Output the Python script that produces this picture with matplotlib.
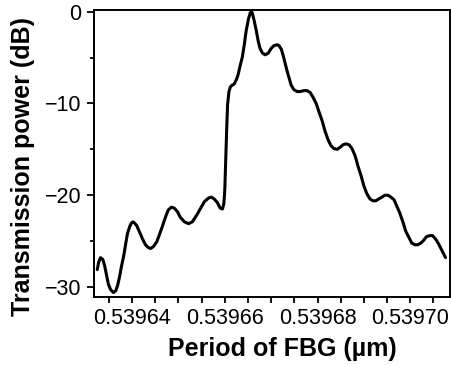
import matplotlib
matplotlib.use("Agg")
import matplotlib.pyplot as plt
from matplotlib.ticker import MultipleLocator, FormatStrFormatter

# --- data (period in um, transmission in dB) ---
period_um = [
    0.5396325, 0.5396328, 0.5396332, 0.5396337, 0.5396341, 0.5396345,
    0.5396349, 0.5396354, 0.5396360, 0.5396365, 0.5396369, 0.5396373,
    0.5396377, 0.5396382, 0.5396386, 0.5396390, 0.5396395, 0.5396399,
    0.5396402, 0.5396405, 0.5396410, 0.5396416, 0.5396423, 0.5396429,
    0.5396435, 0.5396440, 0.5396446, 0.5396453, 0.5396459, 0.5396466,
    0.5396472, 0.5396478, 0.5396485, 0.5396491, 0.5396498, 0.5396504,
    0.5396513, 0.5396522, 0.5396530, 0.5396539, 0.5396547, 0.5396556,
    0.5396565, 0.5396571, 0.5396577, 0.5396584, 0.5396590, 0.5396595,
    0.5396598, 0.5396600, 0.5396602, 0.5396604, 0.5396606, 0.5396609,
    0.5396612, 0.5396616, 0.5396620, 0.5396625, 0.5396629, 0.5396633,
    0.5396638, 0.5396642, 0.5396646, 0.5396651, 0.5396655, 0.5396657,
    0.5396659, 0.5396663, 0.5396668, 0.5396672, 0.5396676, 0.5396681,
    0.5396687, 0.5396694, 0.5396700, 0.5396706, 0.5396713, 0.5396717,
    0.5396722, 0.5396726, 0.5396730, 0.5396734, 0.5396739, 0.5396743,
    0.5396749, 0.5396756, 0.5396762, 0.5396771, 0.5396777, 0.5396784,
    0.5396790, 0.5396797, 0.5396803, 0.5396810, 0.5396816, 0.5396823,
    0.5396829, 0.5396835, 0.5396842, 0.5396848, 0.5396855, 0.5396861,
    0.5396868, 0.5396874, 0.5396881, 0.5396887, 0.5396894, 0.5396900,
    0.5396906, 0.5396913, 0.5396919, 0.5396926, 0.5396932, 0.5396939,
    0.5396945, 0.5396952, 0.5396958, 0.5396965, 0.5396971, 0.5396977,
    0.5396984, 0.5396990, 0.5396997, 0.5397003, 0.5397010, 0.5397016,
    0.5397023, 0.5397029, 0.5397035, 0.5397042, 0.5397048, 0.5397055,
    0.5397061, 0.5397068, 0.5397076,
]
power_db = [
    -28.1, -27.3, -26.8, -27.0, -27.7, -28.7,
    -29.7, -30.3, -30.6, -30.4, -29.8, -28.9,
    -27.8, -26.6, -25.4, -24.2, -23.4, -23.0,
    -22.9, -23.0, -23.3, -24.0, -24.8, -25.4,
    -25.7, -25.8, -25.6, -25.1, -24.3, -23.3,
    -22.4, -21.6, -21.3, -21.4, -21.8, -22.4,
    -22.9, -23.1, -22.9, -22.2, -21.5, -20.7,
    -20.3, -20.2, -20.4, -20.8, -21.4, -21.5,
    -20.9, -19.4, -16.1, -12.9, -10.1, -8.7,
    -8.2, -8.0, -7.9, -7.4, -6.8, -5.9,
    -4.9, -3.6, -2.1, -0.8, -0.1, 0.0,
    -0.1, -0.9, -2.1, -3.2, -4.0, -4.5,
    -4.7, -4.5, -4.0, -3.7, -3.6, -3.7,
    -4.1, -4.8, -5.6, -6.4, -7.3, -8.0,
    -8.5, -8.7, -8.7, -8.6, -8.6, -8.8,
    -9.3, -10.0, -10.9, -11.9, -13.0, -14.0,
    -14.6, -14.9, -15.0, -14.8, -14.5, -14.4,
    -14.5, -14.9, -15.7, -16.8, -17.9, -19.0,
    -19.8, -20.4, -20.6, -20.6, -20.4, -20.2,
    -20.0, -20.0, -20.2, -20.5, -21.2, -21.9,
    -22.9, -23.9, -24.6, -25.2, -25.4, -25.4,
    -25.2, -24.9, -24.5, -24.4, -24.4, -24.8,
    -25.3, -26.0, -26.8,
]

plt.rcParams['font.family'] = ['Liberation Sans', 'DejaVu Sans']

fig = plt.figure(figsize=(4.52, 3.65), dpi=100)
ax = fig.add_axes([0.208, 0.186, 0.788, 0.787])

ax.plot(period_um, power_db, color='black', linewidth=2.2,
        solid_joinstyle='round', solid_capstyle='round')

ax.set_xlim(0.5396318, 0.5397086)
ax.set_ylim(-31.1, 0.2)

ax.xaxis.set_major_locator(MultipleLocator(0.00002))
ax.xaxis.set_minor_locator(MultipleLocator(0.000005))
ax.xaxis.set_major_formatter(FormatStrFormatter('%.5f'))
ax.yaxis.set_major_locator(MultipleLocator(10))
ax.yaxis.set_minor_locator(MultipleLocator(5))

ax.tick_params(axis='both', which='both', direction='out', width=1.3,
               top=False, right=False, labelsize=15.5, pad=4)
ax.tick_params(axis='y', which='major', length=5)
ax.tick_params(axis='y', which='minor', length=3)
ax.tick_params(axis='x', which='both', length=4)

for sp in ax.spines.values():
    sp.set_linewidth(1.4)

ax.set_xlabel('Period of FBG (µm)', fontsize=18, fontweight='bold')
ax.set_ylabel('Transmission power (dB)', fontsize=18, fontweight='bold')
ax.xaxis.set_label_coords(0.53, -0.14)
ax.yaxis.set_label_coords(-0.165, 0.455)

fig.savefig('out.png', dpi=100)
